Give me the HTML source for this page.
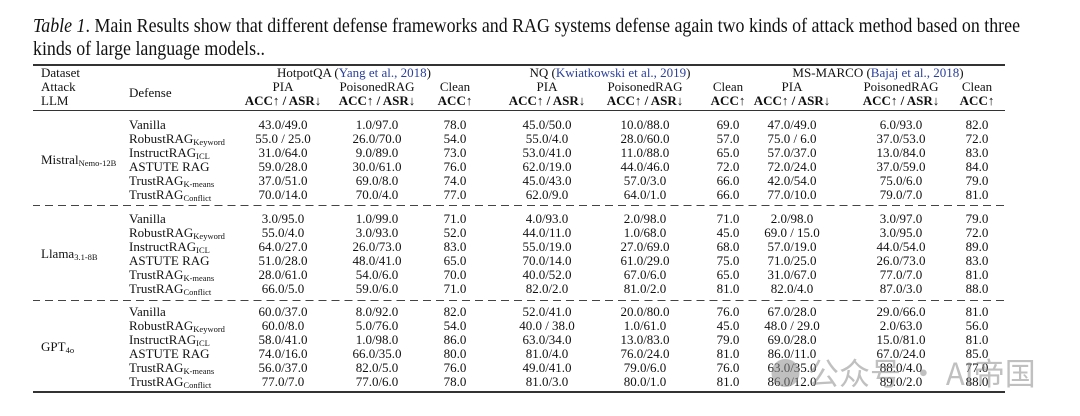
<!DOCTYPE html>
<html><head><meta charset="utf-8">
<style>
html,body{margin:0;padding:0;background:#fff;}
body{width:1080px;height:416px;position:relative;overflow:hidden;font-family:"Liberation Serif",serif;color:#111;}
.cap{position:absolute;left:33px;font-size:19.5px;line-height:22px;white-space:nowrap;transform-origin:0 0;}
.t{position:absolute;font-size:13px;line-height:14px;white-space:nowrap;}
.c{transform:translateX(-50%);}
sub{font-size:8.5px;vertical-align:-2px;line-height:0;}
b{font-weight:bold;}
.blue{color:#2a3f9a;}
.rule{position:absolute;left:33px;width:972px;background:#333;}
.dash{position:absolute;left:33px;width:972px;height:0;border-top:1px dashed #444;border-image:repeating-linear-gradient(90deg,#444 0 8px,transparent 8px 13px) 1;}
.wm{position:absolute;left:770px;top:352px;font-family:"Noto Sans CJK SC",sans-serif;font-size:31px;color:rgba(140,140,140,0.55);white-space:nowrap;line-height:40px;}
</style></head><body>
<div class="cap" id="cap1" style="top:16px"><i>Table 1</i>. Main Results show that different defense frameworks and RAG systems defense again two kinds of attack method based on three</div>
<div class="cap" style="top:39px">kinds of large language models..</div>
<div class="rule" style="top:64px;height:2px"></div>
<div class="rule" style="top:110px;height:1px"></div>
<div class="dash" style="top:205px"></div>
<div class="dash" style="top:300px"></div>
<div class="rule" style="top:391px;height:2px"></div>

<div class="t" style="left:41px;top:66px">Dataset</div>
<div class="t" style="left:41px;top:80px">Attack</div>
<div class="t" style="left:41px;top:94px">LLM</div>
<div class="t" style="left:129px;top:86px">Defense</div>

<div class="t c" style="left:354px;top:66px">HotpotQA (<span class="blue">Yang et al., 2018</span>)</div>
<div class="t c" style="left:610px;top:66px">NQ (<span class="blue">Kwiatkowski et al., 2019</span>)</div>
<div class="t c" style="left:878px;top:66px">MS-MARCO (<span class="blue">Bajaj et al., 2018</span>)</div>

<div id="hdr"></div>
<script>
var c1=document.getElementById('cap1');
var w=c1.getBoundingClientRect().width;
var s=987/w;
c1.style.transform='scaleX('+s+')';
c1.nextElementSibling.style.transform='scaleX('+s+')';
var cols=[283,377,455,547,645,728,792,901,977];
var h='';
var subs=['PIA','PoisonedRAG','Clean'];
for(var i=0;i<9;i++){
  var k=i%3;
  h+='<div class="t c" style="left:'+cols[i]+'px;top:80px">'+subs[k]+'</div>';
  h+='<div class="t c" style="left:'+cols[i]+'px;top:94px"><b>'+(k==2?'ACC↑':'ACC↑ / ASR↓')+'</b></div>';
}
var names=['Vanilla','RobustRAG<sub>Keyword</sub>','InstructRAG<sub>ICL</sub>','ASTUTE RAG','TrustRAG<sub>K-means</sub>','TrustRAG<sub>Conflict</sub>'];
var llms=['Mistral<sub>Nemo-12B</sub>','Llama<sub>3.1-8B</sub>','GPT<sub>4o</sub>'];
var tops=[125,219,312];
var data=[
[['43.0/49.0','1.0/97.0','78.0','45.0/50.0','10.0/88.0','69.0','47.0/49.0','6.0/93.0','82.0'],
['55.0 / 25.0','26.0/70.0','54.0','55.0/4.0','28.0/60.0','57.0','75.0 / 6.0','37.0/53.0','72.0'],
['31.0/64.0','9.0/89.0','73.0','53.0/41.0','11.0/88.0','65.0','57.0/37.0','13.0/84.0','83.0'],
['59.0/28.0','30.0/61.0','76.0','62.0/19.0','44.0/46.0','72.0','72.0/24.0','37.0/59.0','84.0'],
['37.0/51.0','69.0/8.0','74.0','45.0/43.0','57.0/3.0','66.0','42.0/54.0','75.0/6.0','79.0'],
['70.0/14.0','70.0/4.0','77.0','62.0/9.0','64.0/1.0','66.0','77.0/10.0','79.0/7.0','81.0']],
[['3.0/95.0','1.0/99.0','71.0','4.0/93.0','2.0/98.0','71.0','2.0/98.0','3.0/97.0','79.0'],
['55.0/4.0','3.0/93.0','52.0','44.0/11.0','1.0/68.0','45.0','69.0 / 15.0','3.0/95.0','72.0'],
['64.0/27.0','26.0/73.0','83.0','55.0/19.0','27.0/69.0','68.0','57.0/19.0','44.0/54.0','89.0'],
['51.0/28.0','48.0/41.0','65.0','70.0/14.0','61.0/29.0','75.0','71.0/25.0','26.0/73.0','83.0'],
['28.0/61.0','54.0/6.0','70.0','40.0/52.0','67.0/6.0','65.0','31.0/67.0','77.0/7.0','81.0'],
['66.0/5.0','59.0/6.0','71.0','82.0/2.0','81.0/2.0','81.0','82.0/4.0','87.0/3.0','88.0']],
[['60.0/37.0','8.0/92.0','82.0','52.0/41.0','20.0/80.0','76.0','67.0/28.0','29.0/66.0','81.0'],
['60.0/8.0','5.0/76.0','54.0','40.0 / 38.0','1.0/61.0','45.0','48.0 / 29.0','2.0/63.0','56.0'],
['58.0/41.0','1.0/98.0','86.0','63.0/34.0','13.0/83.0','79.0','69.0/28.0','15.0/81.0','81.0'],
['74.0/16.0','66.0/35.0','80.0','81.0/4.0','76.0/24.0','81.0','86.0/11.0','67.0/24.0','85.0'],
['56.0/37.0','82.0/5.0','76.0','49.0/41.0','79.0/6.0','76.0','63.0/35.0','88.0/4.0','77.0'],
['77.0/7.0','77.0/6.0','78.0','81.0/3.0','80.0/1.0','81.0','86.0/12.0','89.0/2.0','88.0']]];
for(var b=0;b<3;b++){
  h+='<div class="t" style="left:41px;top:'+(tops[b]+35-7)+'px">'+llms[b]+'</div>';
  for(var r=0;r<6;r++){
    var y=tops[b]+r*14-7;
    h+='<div class="t" style="left:129px;top:'+y+'px">'+names[r]+'</div>';
    for(var i=0;i<9;i++) h+='<div class="t c" style="left:'+cols[i]+'px;top:'+y+'px">'+data[b][r][i]+'</div>';
  }
}
document.getElementById('hdr').innerHTML=h;
</script>
<div class="wm">● 公众号 · AI帝国</div>
</body></html>
